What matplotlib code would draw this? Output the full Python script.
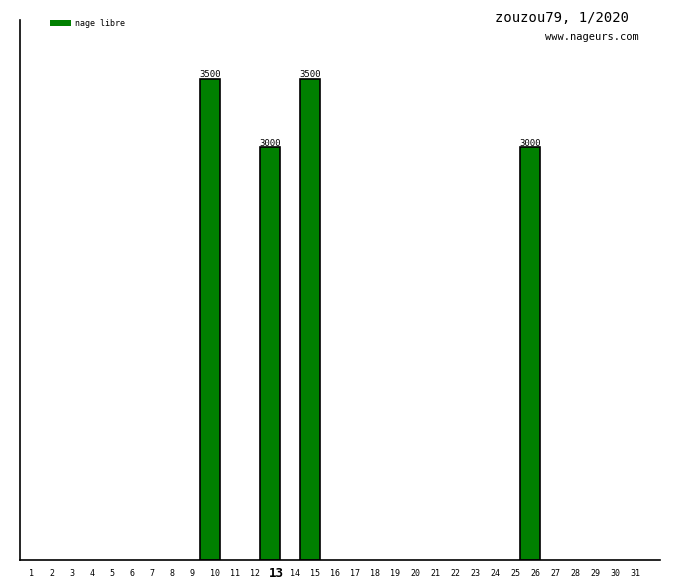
import matplotlib
matplotlib.use("Agg")
import matplotlib.pyplot as plt
from matplotlib.patches import Rectangle

# Data
days = list(range(1, 32))
bar_days = [10, 13, 15, 26]
bar_values = [3500, 3000, 3500, 3000]
highlight_day = 13
series_name = "nage libre"
title = "zouzou79, 1/2020"
site = "www.nageurs.com"

W, H = 680, 580
fig = plt.figure(figsize=(W / 100, H / 100), dpi=100)
fig.patch.set_facecolor("white")
ax = fig.add_axes([20 / W, 20 / H, 640 / W, 540 / H])

ax.bar(bar_days, bar_values, width=1, align="edge", color="#008000",
       edgecolor="black", linewidth=1.2)
for d, v in zip(bar_days, bar_values):
    ax.text(d + 0.5, v - 5, str(v), ha="center", va="bottom",
            fontsize=6.5, family="DejaVu Sans Mono")

ax.set_xlim(1, 33)
ax.set_ylim(0, 3927)
ax.set_xticks([])
ax.set_yticks([])
for s in ["top", "right"]:
    ax.spines[s].set_visible(False)
ax.spines["left"].set_linewidth(1.2)
ax.spines["bottom"].set_linewidth(1.2)

# day labels below axis
for d in days:
    x = (20 * d + 12) / W
    if d == highlight_day:
        fig.text(x + 4 / W, 1 - 577 / H, str(d), ha="center", va="baseline",
                 fontsize=9, fontweight="bold", family="DejaVu Sans Mono")
    else:
        fig.text(x + (3 / W if d >= 10 else 0), 1 - 576 / H, str(d),
                 ha="center", va="baseline", fontsize=6,
                 family="DejaVu Sans Mono")

# legend
fig.patches.append(Rectangle((50 / W, 1 - 26 / H), 21 / W, 6 / H,
                             transform=fig.transFigure, facecolor="#008000",
                             edgecolor="none"))
fig.text(75 / W, 1 - 23 / H, series_name, ha="left", va="center",
         fontsize=6, family="DejaVu Sans Mono")

fig.text(629 / W, 1 - 18 / H, title, ha="right", va="center",
         fontsize=10, family="DejaVu Sans Mono")
fig.text(639 / W, 1 - 37 / H, site, ha="right", va="center",
         fontsize=7.5, family="DejaVu Sans Mono")

fig.savefig("out.png", dpi=100)
